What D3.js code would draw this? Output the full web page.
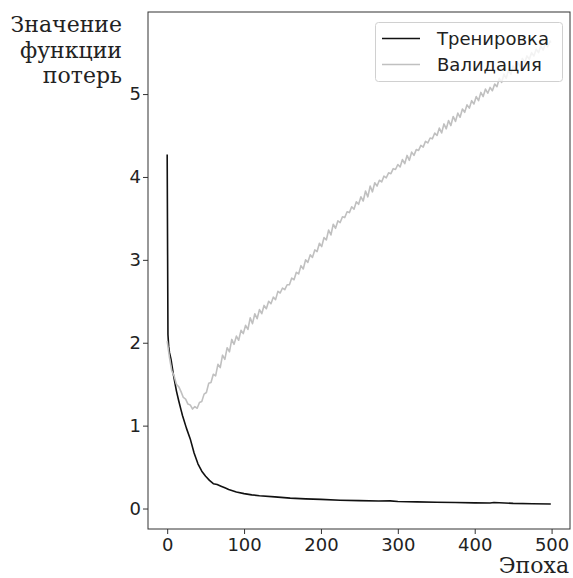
<!DOCTYPE html>
<html>
<head>
<meta charset="utf-8">
<script src="https://cdn.jsdelivr.net/npm/d3@7"></script>
<style>
  html, body { margin: 0; padding: 0; background: #fff; }
  svg { display: block; }
</style>
</head>
<body>
<svg id="chart" width="573" height="578"></svg>
<script>
// ---- data ----
const xTicks = [0, 100, 200, 300, 400, 500];
const yTicks = [0, 1, 2, 3, 4, 5];
const seriesNames = ["Тренировка", "Валидация"];
const yLabelLines = ["Значение", "функции", "потерь"];
const xLabel = "Эпоха";

const trainEpochs = [0, 1, 2, 3, 4, 5, 6, 8, 10, 12, 15, 18, 20, 25, 30, 35, 40, 45, 50, 55, 60, 65, 70, 75, 80, 90, 100, 110, 120, 140, 160, 180, 200, 225, 250, 275, 290, 300, 325, 350, 375, 400, 420, 425, 450, 475, 499];
const trainLoss = [4.27, 2.10, 1.95, 1.88, 1.84, 1.80, 1.74, 1.62, 1.52, 1.42, 1.30, 1.19, 1.12, 0.97, 0.84, 0.67, 0.54, 0.45, 0.39, 0.34, 0.30, 0.29, 0.27, 0.25, 0.23, 0.20, 0.18, 0.165, 0.155, 0.14, 0.125, 0.117, 0.11, 0.10, 0.095, 0.09, 0.092, 0.085, 0.08, 0.076, 0.072, 0.068, 0.066, 0.072, 0.062, 0.058, 0.055];

const valEpochs = [0, 3, 6, 9, 12, 15, 18, 21, 24, 27, 30, 33, 36, 39, 42, 45, 48, 51, 54, 57,
  60, 63, 66, 69, 72, 75, 78, 81, 84, 87, 90, 93, 96, 99, 102, 105, 108, 111, 114, 117,
  120, 123, 126, 129, 132, 135, 138, 141, 144, 147, 150, 153, 156, 159, 162, 165, 168, 171, 174, 177,
  180, 183, 186, 189, 192, 195, 198, 201, 204, 207, 210, 213, 216, 219, 222, 225, 228, 231, 234, 237,
  240, 243, 246, 249, 252, 255, 258, 261, 264, 267, 270, 273, 276, 279, 282, 285, 288, 291, 294, 297,
  300, 303, 306, 309, 312, 315, 318, 321, 324, 327, 330, 333, 336, 339, 342, 345, 348, 351, 354, 357,
  360, 363, 366, 369, 372, 375, 378, 381, 384, 387, 390, 393, 396, 399, 402, 405, 408, 411, 414, 417,
  420, 423, 426, 429, 432, 435, 438, 441, 444, 447, 450, 453, 456, 459, 462, 465, 468, 471, 474, 477,
  480, 483, 486, 489, 492, 495, 498, 499];
const valLoss = [2.02, 1.82, 1.66, 1.60, 1.50, 1.47, 1.41, 1.34, 1.32, 1.26, 1.25, 1.20, 1.23, 1.21, 1.28, 1.29, 1.38, 1.40, 1.51, 1.52,
  1.62, 1.60, 1.74, 1.70, 1.85, 1.80, 1.94, 1.89, 2.04, 1.98, 2.08, 2.03, 2.15, 2.11, 2.21, 2.16, 2.30, 2.23, 2.35, 2.29,
  2.40, 2.35, 2.45, 2.41, 2.50, 2.47, 2.55, 2.52, 2.62, 2.60, 2.66, 2.64, 2.70, 2.70, 2.78, 2.76, 2.85, 2.83, 2.93, 2.89,
  3.00, 2.97, 3.06, 3.03, 3.12, 3.10, 3.20, 3.16, 3.27, 3.24, 3.36, 3.30, 3.43, 3.38, 3.47, 3.45, 3.52, 3.51, 3.58, 3.57,
  3.64, 3.61, 3.70, 3.67, 3.76, 3.71, 3.83, 3.76, 3.89, 3.82, 3.93, 3.89, 3.96, 3.94, 4.01, 3.99, 4.05, 4.04, 4.10, 4.09,
  4.15, 4.12, 4.21, 4.16, 4.26, 4.20, 4.30, 4.26, 4.33, 4.32, 4.38, 4.36, 4.43, 4.41, 4.47, 4.46, 4.53, 4.50, 4.59, 4.53,
  4.64, 4.58, 4.68, 4.62, 4.73, 4.67, 4.77, 4.72, 4.82, 4.78, 4.87, 4.83, 4.92, 4.88, 4.97, 4.92, 5.02, 4.97, 5.06, 5.01,
  5.08, 5.04, 5.12, 5.09, 5.19, 5.14, 5.24, 5.19, 5.29, 5.24, 5.34, 5.29, 5.38, 5.33, 5.43, 5.38, 5.46, 5.42, 5.50, 5.46,
  5.54, 5.50, 5.58, 5.53, 5.61, 5.57, 5.64, 5.62];

// ---- layout ----
const svg = d3.select("#chart");
const plot = { left: 148, right: 570, top: 12, bottom: 529 };

const x = d3.scaleLinear().domain([-24.95, 523.95]).range([plot.left, plot.right]);
const y = d3.scaleLinear().domain([-0.247, 5.99]).range([plot.bottom, plot.top]);

const tickFont = "'DejaVu Sans', sans-serif";
const serif = "'DejaVu Serif', serif";

// clip
svg.append("defs").append("clipPath").attr("id", "clip")
  .append("rect").attr("x", plot.left).attr("y", plot.top)
  .attr("width", plot.right - plot.left).attr("height", plot.bottom - plot.top);

// lines
const line = d3.line().x(d => x(d[0])).y(d => y(d[1]));
const trainData = trainEpochs.map((e, i) => [e, trainLoss[i]]);
const valData = valEpochs.map((e, i) => [e, valLoss[i]]);

const g = svg.append("g").attr("clip-path", "url(#clip)");
g.append("path").datum(trainData).attr("d", line)
  .attr("fill", "none").attr("stroke", "#111").attr("stroke-width", 1.6).attr("stroke-linejoin", "round");
g.append("path").datum(valData).attr("d", line)
  .attr("fill", "none").attr("stroke", "#c0c0c0").attr("stroke-width", 1.6).attr("stroke-linejoin", "round");

// axes
const xAxis = svg.append("g").attr("transform", `translate(0,${plot.bottom})`)
  .call(d3.axisBottom(x).tickValues(xTicks).tickFormat(d3.format("d")).tickSize(5).tickPadding(4).tickSizeOuter(0));
const yAxis = svg.append("g").attr("transform", `translate(${plot.left},0)`)
  .call(d3.axisLeft(y).tickValues(yTicks).tickFormat(d3.format("d")).tickSize(5).tickPadding(2).tickSizeOuter(0));
[xAxis, yAxis].forEach(a => {
  a.select(".domain").remove();
  a.selectAll(".tick line").attr("stroke", "#333").attr("stroke-width", 1);
  a.selectAll(".tick text").attr("fill", "#222").style("font-family", tickFont).style("font-size", "18px");
});

// frame
svg.append("rect").attr("x", plot.left).attr("y", plot.top)
  .attr("width", plot.right - plot.left).attr("height", plot.bottom - plot.top)
  .attr("fill", "none").attr("stroke", "#333").attr("stroke-width", 1);

// legend
const lg = svg.append("g");
lg.append("rect").attr("x", 375.5).attr("y", 22.5).attr("width", 187).attr("height", 59)
  .attr("rx", 3).attr("fill", "#fff").attr("fill-opacity", 0.8)
  .attr("stroke", "#d0d0d0").attr("stroke-width", 1);
const legendColors = ["#111", "#c0c0c0"];
seriesNames.forEach((name, i) => {
  const cy = 38.5 + i * 26;
  lg.append("line").attr("x1", 382).attr("x2", 420).attr("y1", cy).attr("y2", cy)
    .attr("stroke", legendColors[i]).attr("stroke-width", 1.6);
  lg.append("text").attr("x", 437).attr("y", cy + 6).attr("fill", "#222")
    .style("font-family", tickFont).style("font-size", "18px").text(name);
});

// axis labels
const yl = svg.append("text").attr("text-anchor", "end")
  .style("font-family", serif).style("font-size", "22px").attr("fill", "#222");
yLabelLines.forEach((t, i) => {
  yl.append("tspan").attr("x", 122).attr("y", 32 + i * 25.5).text(t);
});
svg.append("text").attr("x", 569).attr("y", 573).attr("text-anchor", "end")
  .style("font-family", serif).style("font-size", "22px").attr("fill", "#222").text(xLabel);
</script>
</body>
</html>
